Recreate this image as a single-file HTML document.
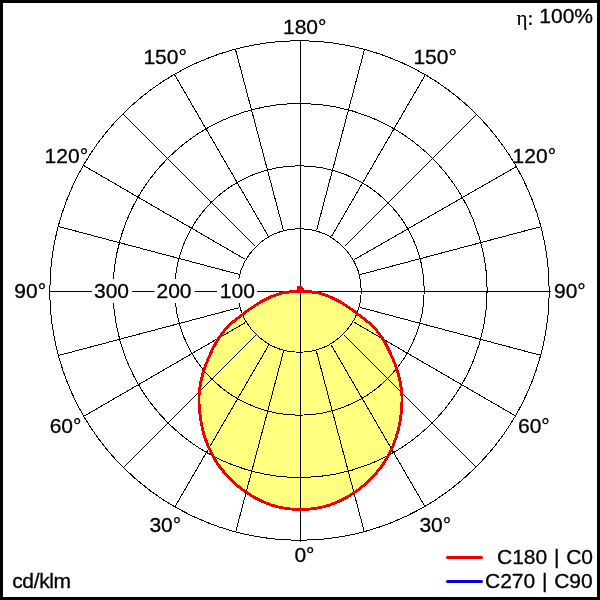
<!DOCTYPE html>
<html><head><meta charset="utf-8"><title>Polar</title>
<style>
html,body{margin:0;padding:0;background:#fff;}
body{width:600px;height:600px;overflow:hidden;position:relative;}
svg{position:absolute;left:0;top:0;display:block;}
text{font-family:"Liberation Sans",sans-serif;font-size:21px;fill:#000;stroke:#000;stroke-width:0.3px;}
.g line,.g circle{stroke:#000;stroke-width:1;fill:none;}
</style></head><body>
<svg width="600" height="600" viewBox="0 0 600 600">
<rect x="0" y="0" width="600" height="600" fill="#fff"/>
<path d="M300.5,291.5 L292.4,291.5 L281.8,293.1 L271.3,296.7 L259.8,302.4 L247.1,311.0 L229.7,324.5 L227.0,327.3 L224.6,330.2 L222.3,333.1 L220.2,336.0 L218.2,339.0 L216.3,342.1 L214.6,345.2 L213.0,348.3 L211.4,351.6 L209.9,355.0 L208.3,358.5 L206.9,362.1 L205.4,365.8 L204.1,369.5 L203.0,373.3 L202.0,377.2 L201.0,381.1 L200.3,385.0 L199.7,388.9 L199.3,392.7 L199.0,396.6 L199.0,400.4 L199.1,404.1 L199.3,407.9 L199.7,411.7 L200.1,415.5 L200.6,419.3 L201.3,423.2 L202.1,427.0 L203.0,430.8 L204.0,434.5 L205.2,438.2 L206.5,441.9 L207.9,445.5 L209.5,449.1 L211.2,452.6 L213.0,456.1 L214.9,459.5 L217.0,462.8 L219.1,466.0 L221.5,469.0 L223.9,472.0 L226.4,474.9 L229.0,477.7 L231.7,480.4 L234.5,483.1 L237.4,485.6 L240.4,488.0 L243.5,490.3 L246.6,492.5 L249.9,494.6 L253.1,496.7 L256.5,498.6 L259.9,500.3 L263.4,501.9 L267.0,503.3 L270.5,504.7 L274.2,505.9 L277.9,506.9 L281.6,507.7 L285.3,508.3 L289.1,508.8 L292.9,509.2 L296.7,509.4 L300.5,509.5 L304.3,509.4 L308.1,509.2 L311.9,508.8 L315.7,508.3 L319.4,507.7 L323.1,506.9 L326.8,505.9 L330.5,504.7 L334.0,503.3 L337.6,501.9 L341.1,500.3 L344.5,498.6 L347.9,496.7 L351.1,494.6 L354.4,492.5 L357.5,490.3 L360.6,488.0 L363.6,485.6 L366.5,483.1 L369.3,480.4 L372.0,477.7 L374.6,474.9 L377.1,472.0 L379.5,469.0 L381.9,466.0 L384.0,462.8 L386.1,459.5 L388.0,456.1 L389.8,452.6 L391.5,449.1 L393.1,445.5 L394.5,441.9 L395.8,438.2 L397.0,434.5 L398.0,430.8 L398.9,427.0 L399.7,423.2 L400.4,419.3 L400.9,415.5 L401.3,411.7 L401.7,407.9 L401.9,404.1 L402.0,400.4 L402.0,396.6 L401.7,392.7 L401.3,388.9 L400.7,385.0 L400.0,381.1 L399.0,377.2 L398.0,373.3 L396.9,369.5 L395.6,365.8 L394.1,362.1 L392.7,358.5 L391.1,355.0 L389.6,351.6 L388.0,348.3 L386.4,345.2 L384.7,342.1 L382.8,339.0 L380.8,336.0 L378.7,333.1 L376.4,330.2 L374.0,327.3 L371.3,324.5 L353.9,311.0 L341.2,302.4 L329.7,296.7 L319.2,293.1 L308.6,291.5 L300.5,291.5 Z" fill="#ffff80" stroke="none"/>
<g class="g" shape-rendering="crispEdges">
<circle cx="299.5" cy="290.5" r="61.7"/>
<circle cx="299.5" cy="290.5" r="124.7"/>
<circle cx="300.1" cy="290.5" r="187.0"/>
<circle cx="299.5" cy="290.5" r="249.7"/>
<line x1="316.5" y1="351.5" x2="364.5" y2="532.5"/>
<line x1="331.5" y1="345.5" x2="425.5" y2="507.5"/>
<line x1="344.5" y1="335.5" x2="476.5" y2="467.5"/>
<line x1="354.5" y1="322.5" x2="516.5" y2="416.5"/>
<line x1="360.5" y1="307.5" x2="541.5" y2="355.5"/>
<line x1="360.5" y1="274.5" x2="541.5" y2="226.5"/>
<line x1="354.5" y1="259.5" x2="516.5" y2="166.5"/>
<line x1="344.5" y1="246.5" x2="476.5" y2="114.5"/>
<line x1="331.5" y1="236.5" x2="425.5" y2="74.5"/>
<line x1="316.5" y1="230.5" x2="364.5" y2="49.5"/>
<line x1="283.5" y1="230.5" x2="235.5" y2="49.5"/>
<line x1="268.5" y1="236.5" x2="174.5" y2="74.5"/>
<line x1="255.5" y1="246.5" x2="123.5" y2="114.5"/>
<line x1="245.5" y1="259.5" x2="83.5" y2="165.5"/>
<line x1="239.5" y1="274.5" x2="58.5" y2="226.5"/>
<line x1="239.5" y1="307.5" x2="58.5" y2="355.5"/>
<line x1="245.5" y1="322.5" x2="83.5" y2="416.5"/>
<line x1="255.5" y1="335.5" x2="123.5" y2="467.5"/>
<line x1="268.5" y1="345.5" x2="174.5" y2="507.5"/>
<line x1="283.5" y1="351.5" x2="235.5" y2="532.5"/>
<line x1="300.5" y1="40" x2="300.5" y2="542"/>
<line x1="49" y1="291.5" x2="551" y2="291.5"/>
</g>
<g id="bg" fill="#fff" stroke="none">
<rect x="92" y="279" width="40" height="24"/>
<rect x="154.5" y="279" width="40" height="24"/>
<rect x="217" y="279" width="40" height="24"/>
</g>
<path d="M300.5,291.5 L292.4,291.5 L281.8,293.1 L271.3,296.7 L259.8,302.4 L247.1,311.0 L229.7,324.5 L227.0,327.3 L224.6,330.2 L222.3,333.1 L220.2,336.0 L218.2,339.0 L216.3,342.1 L214.6,345.2 L213.0,348.3 L211.4,351.6 L209.9,355.0 L208.3,358.5 L206.9,362.1 L205.4,365.8 L204.1,369.5 L203.0,373.3 L202.0,377.2 L201.0,381.1 L200.3,385.0 L199.7,388.9 L199.3,392.7 L199.0,396.6 L199.0,400.4 L199.1,404.1 L199.3,407.9 L199.7,411.7 L200.1,415.5 L200.6,419.3 L201.3,423.2 L202.1,427.0 L203.0,430.8 L204.0,434.5 L205.2,438.2 L206.5,441.9 L207.9,445.5 L209.5,449.1 L211.2,452.6 L213.0,456.1 L214.9,459.5 L217.0,462.8 L219.1,466.0 L221.5,469.0 L223.9,472.0 L226.4,474.9 L229.0,477.7 L231.7,480.4 L234.5,483.1 L237.4,485.6 L240.4,488.0 L243.5,490.3 L246.6,492.5 L249.9,494.6 L253.1,496.7 L256.5,498.6 L259.9,500.3 L263.4,501.9 L267.0,503.3 L270.5,504.7 L274.2,505.9 L277.9,506.9 L281.6,507.7 L285.3,508.3 L289.1,508.8 L292.9,509.2 L296.7,509.4 L300.5,509.5 L304.3,509.4 L308.1,509.2 L311.9,508.8 L315.7,508.3 L319.4,507.7 L323.1,506.9 L326.8,505.9 L330.5,504.7 L334.0,503.3 L337.6,501.9 L341.1,500.3 L344.5,498.6 L347.9,496.7 L351.1,494.6 L354.4,492.5 L357.5,490.3 L360.6,488.0 L363.6,485.6 L366.5,483.1 L369.3,480.4 L372.0,477.7 L374.6,474.9 L377.1,472.0 L379.5,469.0 L381.9,466.0 L384.0,462.8 L386.1,459.5 L388.0,456.1 L389.8,452.6 L391.5,449.1 L393.1,445.5 L394.5,441.9 L395.8,438.2 L397.0,434.5 L398.0,430.8 L398.9,427.0 L399.7,423.2 L400.4,419.3 L400.9,415.5 L401.3,411.7 L401.7,407.9 L401.9,404.1 L402.0,400.4 L402.0,396.6 L401.7,392.7 L401.3,388.9 L400.7,385.0 L400.0,381.1 L399.0,377.2 L398.0,373.3 L396.9,369.5 L395.6,365.8 L394.1,362.1 L392.7,358.5 L391.1,355.0 L389.6,351.6 L388.0,348.3 L386.4,345.2 L384.7,342.1 L382.8,339.0 L380.8,336.0 L378.7,333.1 L376.4,330.2 L374.0,327.3 L371.3,324.5 L353.9,311.0 L341.2,302.4 L329.7,296.7 L319.2,293.1 L308.6,291.5 L300.5,291.5 Z" fill="none" stroke="#ec0000" stroke-width="2.85" stroke-linejoin="round" shape-rendering="crispEdges"/>
<path d="M297,290.5 V286 H301.5 L304,288.5 V290.5 Z" fill="#ec0000" shape-rendering="crispEdges"/>
<text x="516.5" y="24.5" style="font-family:'Liberation Serif',serif;stroke-width:0.15px">η:</text>
<g>
<text x="283" y="33.7">180°</text>
<text x="294.4" y="561.6">0°</text>
<text x="143.4" y="63.7">150°</text>
<text x="413.4" y="63.7">150°</text>
<text x="44.6" y="162.7">120°</text>
<text x="512.6" y="162.7">120°</text>
<text x="14.3" y="297.7">90°</text>
<text x="554" y="297.7">90°</text>
<text x="49.7" y="432.5">60°</text>
<text x="518" y="432.5">60°</text>
<text x="149.4" y="531.5">30°</text>
<text x="419.4" y="531.5">30°</text>
<text x="94" y="298">300</text>
<text x="156.5" y="298">200</text>
<text x="219.8" y="298">100</text>
<text x="12.2" y="588" letter-spacing="-0.35">cd/klm</text>
<text x="539.3" y="22.7">100%</text>
<text x="497" y="563.5" word-spacing="0.9">C180 | C0</text>
<text x="485" y="587.6" word-spacing="0.9">C270 | C90</text>
</g>
<line x1="447.5" y1="557.5" x2="481.5" y2="557.5" stroke="#ec0000" stroke-width="3" stroke-linecap="round"/>
<line x1="447.5" y1="581.5" x2="481.5" y2="581.5" stroke="#0000e0" stroke-width="3" stroke-linecap="round"/>
<rect x="1.5" y="1.5" width="597" height="597" fill="none" stroke="#000" stroke-width="3"/>
</svg>
</body></html>
